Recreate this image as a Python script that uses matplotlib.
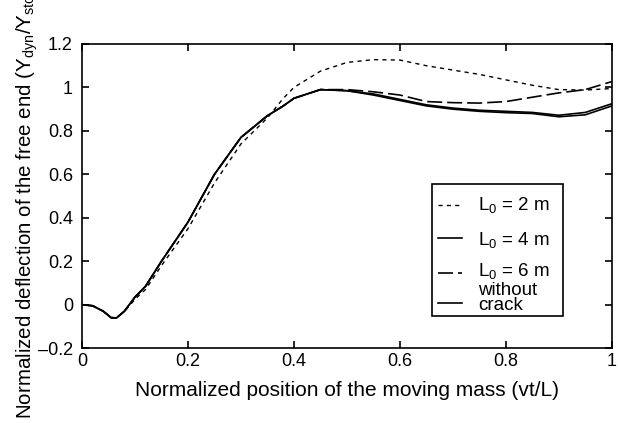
import matplotlib
matplotlib.use("Agg")
import matplotlib.pyplot as plt
from matplotlib.patches import Rectangle

plt.rcParams['font.family'] = ['Liberation Sans', 'DejaVu Sans']
plt.rcParams['mathtext.fontset'] = 'custom'
plt.rcParams['mathtext.rm'] = 'Liberation Sans'
plt.rcParams['mathtext.it'] = 'Liberation Sans'

# normalized position of the moving mass
x = [0, 0.02, 0.04, 0.055, 0.065, 0.08, 0.1, 0.12, 0.15, 0.2, 0.25, 0.3, 0.35,
     0.38, 0.4, 0.45, 0.5, 0.55, 0.6, 0.65, 0.7, 0.75, 0.8, 0.85, 0.9, 0.95, 1.0]

y_l2 = [0, -0.005, -0.03, -0.058, -0.061, -0.032, 0.025, 0.07, 0.18, 0.35, 0.56, 0.74, 0.86,
        0.95, 1.0, 1.075, 1.115, 1.128, 1.126, 1.10, 1.08, 1.06, 1.035, 1.01, 0.99, 0.988, 0.995]
y_l4 = [0, -0.005, -0.03, -0.06, -0.061, -0.03, 0.035, 0.085, 0.2, 0.38, 0.6, 0.77, 0.87,
        0.915, 0.95, 0.99, 0.985, 0.97, 0.945, 0.92, 0.905, 0.895, 0.89, 0.885, 0.872, 0.885, 0.925]
y_l6 = [0, -0.005, -0.03, -0.06, -0.061, -0.03, 0.035, 0.085, 0.2, 0.38, 0.6, 0.77, 0.87,
        0.915, 0.95, 0.99, 0.99, 0.98, 0.965, 0.935, 0.93, 0.928, 0.935, 0.955, 0.975, 0.99, 1.027]
y_nc = [0, -0.005, -0.03, -0.06, -0.061, -0.03, 0.035, 0.085, 0.2, 0.38, 0.6, 0.77, 0.87,
        0.915, 0.95, 0.99, 0.985, 0.965, 0.94, 0.915, 0.9, 0.89, 0.884, 0.88, 0.865, 0.874, 0.915]

labels = ['L$_0$ = 2 m', 'L$_0$ = 4 m', 'L$_0$ = 6 m', 'without\ncrack']

fig = plt.figure(figsize=(6.18, 4.23), dpi=100)
ax = fig.add_axes([0.1327, 0.177, 0.8573, 0.719])

styles = [dict(lw=1.0, dashes=(3, 3)),
          dict(lw=1.2),
          dict(lw=1.2, dashes=(9, 3)),
          dict(lw=1.2)]
series = [y_l2, y_l4, y_l6, y_nc]
for ys, st in zip(series, styles):
    ax.plot(x, ys, color='black', **st)

ax.set_xlim(0, 1)
ax.set_ylim(-0.2, 1.2)
ax.set_xticks([0, 0.2, 0.4, 0.6, 0.8, 1])
ax.set_xticklabels(['0', '0.2', '0.4', '0.6', '0.8', '1'])
ax.set_yticks([-0.2, 0, 0.2, 0.4, 0.6, 0.8, 1, 1.2])
ax.set_yticklabels(['\u2013' + '0.2', '0', '0.2', '0.4', '0.6', '0.8', '1', '1.2'])
ax.tick_params(direction='in', top=True, right=True, labelsize=13, length=5, width=1.2)
ax.tick_params(axis='y', pad=6.5)
for s in ax.spines.values():
    s.set_linewidth(1.2)

ax.set_xlabel('Normalized position of the moving mass (vt/L)', fontsize=15, labelpad=8)
fig.text(27 / 618, 1 - 419 / 423,
         'Normalized deflection of the free end (Y$_{dyn}$/Y$_{stc}$)',
         rotation=90, fontsize=14.8, ha='center', va='bottom')

# legend box drawn by hand (MATLAB-like uneven spacing)
ax.add_patch(Rectangle((0.660, 0.105), 0.248, 0.434, transform=ax.transAxes,
                       facecolor='white', edgecolor='black', lw=1.2, zorder=5))
handle_y = [0.470, 0.362, 0.247, 0.148]
text_y = [0.470, 0.355, 0.253, 0.164]
for hy, ty, lab, st in zip(handle_y, text_y, labels, styles):
    ax.plot([0.672, 0.717], [hy, hy], color='black', transform=ax.transAxes,
            zorder=6, **st)
    t = ax.text(0.747, ty, lab, transform=ax.transAxes, fontsize=13.5,
                va='center', ha='left', zorder=6)
    t.set_linespacing(0.85)

fig.savefig('out.png', dpi=100)
